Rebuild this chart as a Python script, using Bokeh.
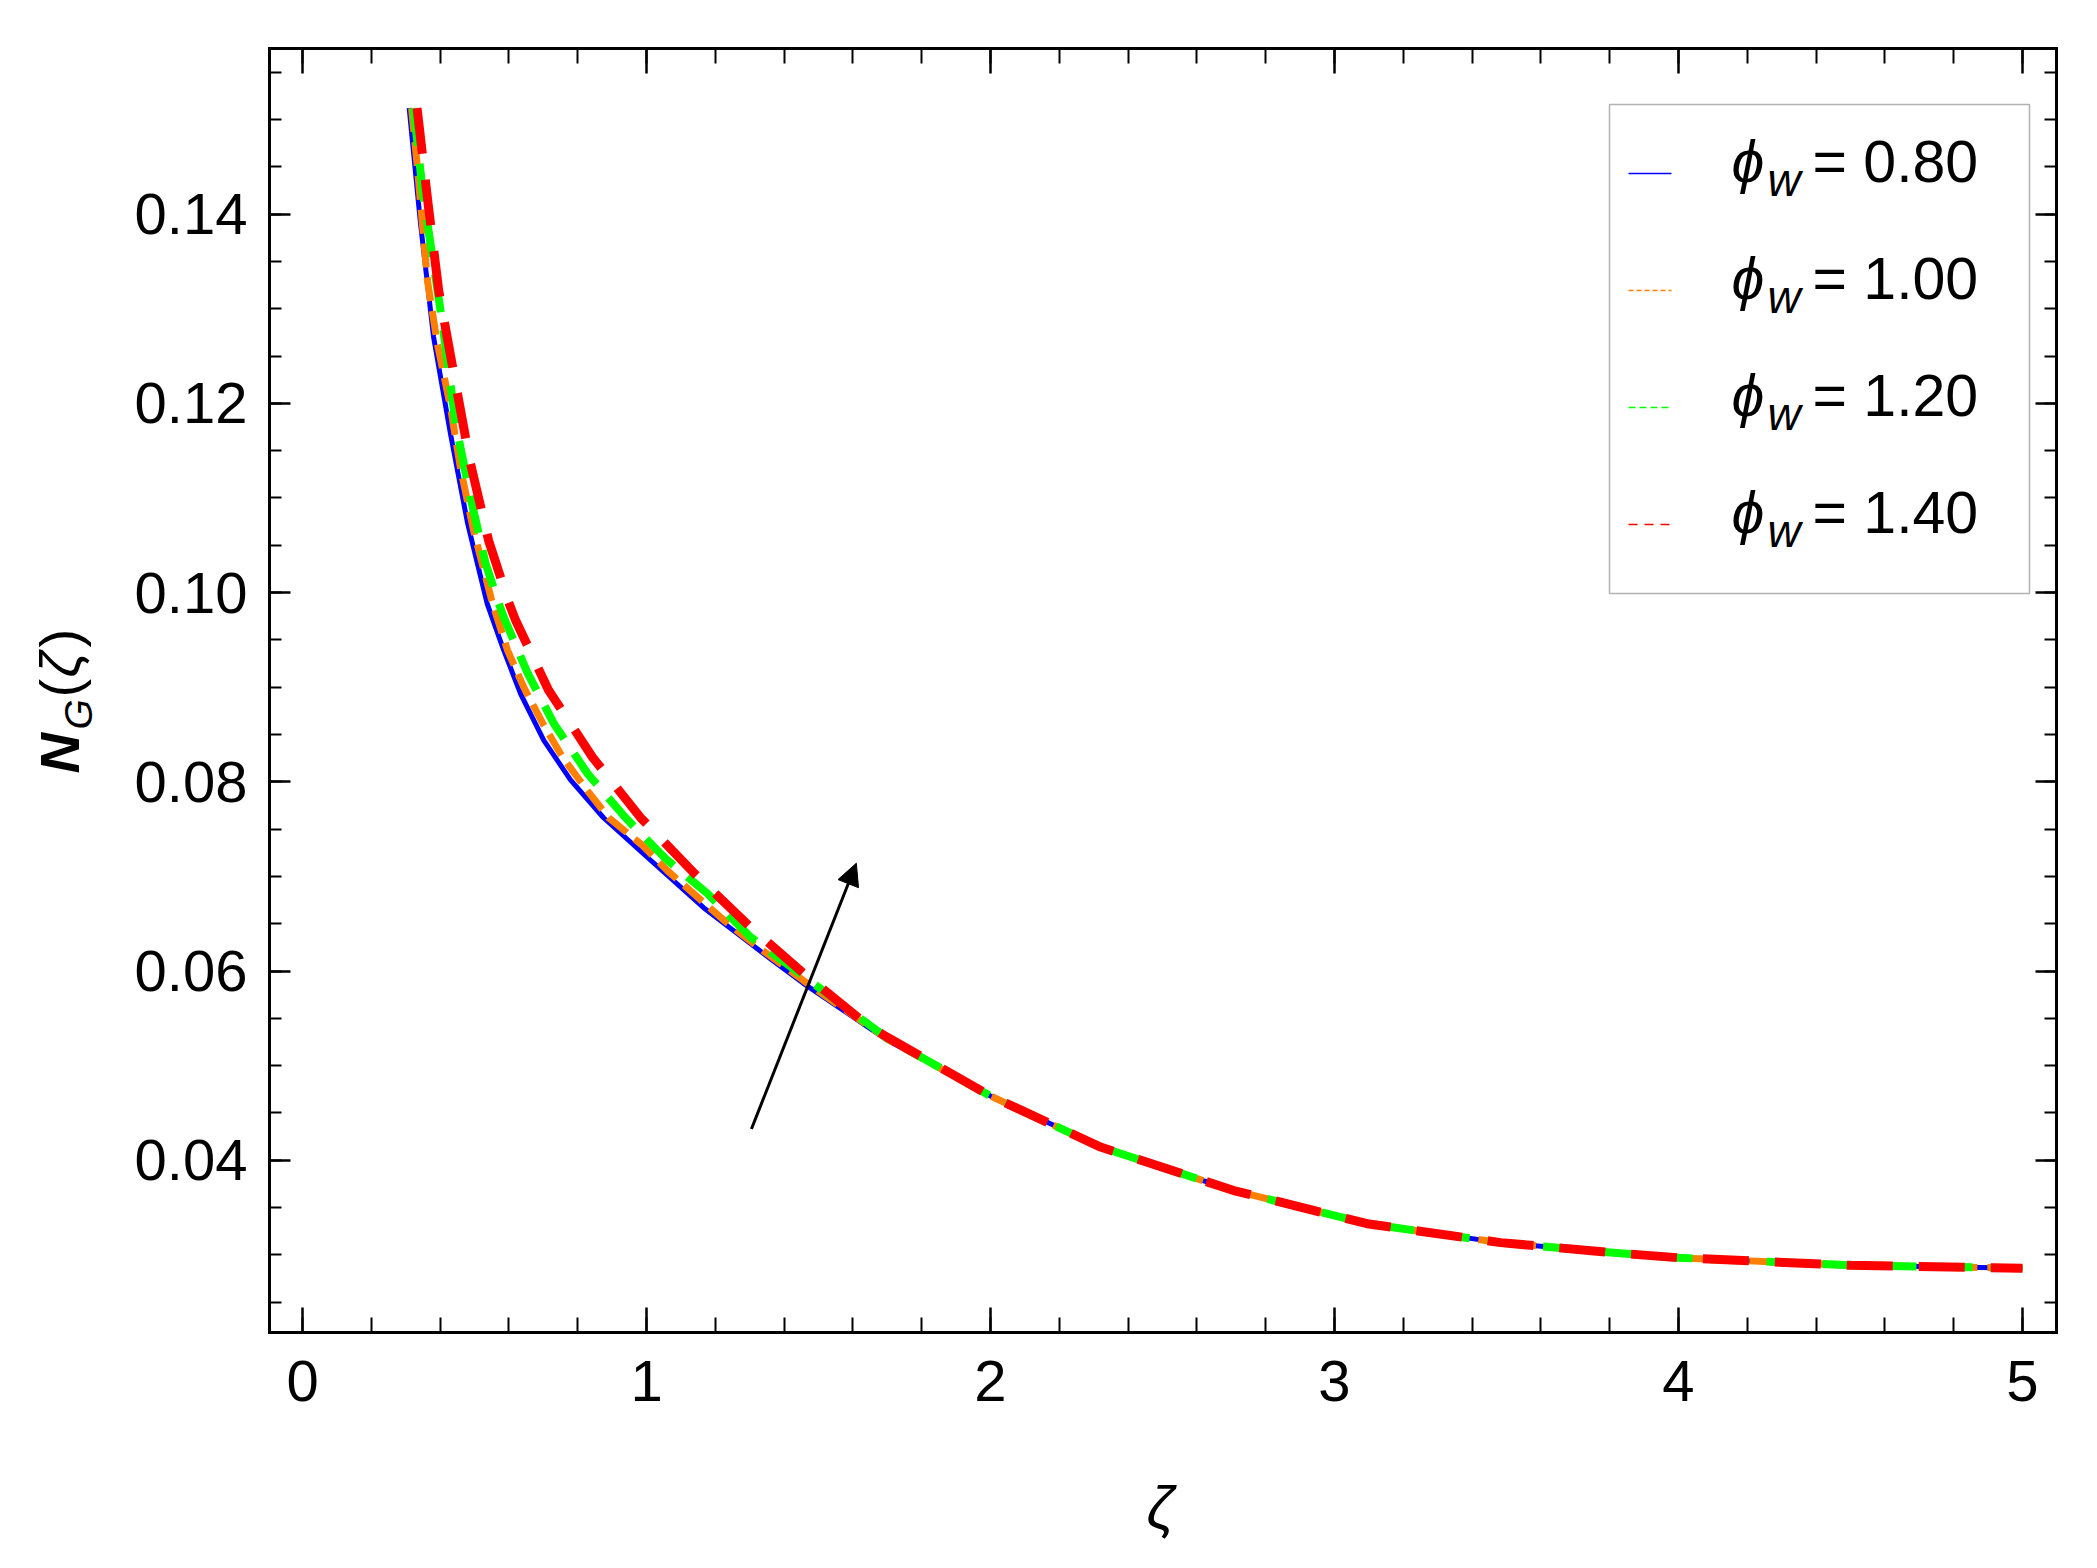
import numpy as np
from bokeh.plotting import figure
from bokeh.models import (Range1d, FixedTicker, NumeralTickFormatter, LinearAxis,
                          CustomJSTickFormatter, Label, BoxAnnotation, Arrow, NormalHead)
from bokeh.embed import file_html
from bokeh.resources import INLINE

# ---- values ----
phi_labels = ["0.80", "1.00", "1.20", "1.40"]

zeta_080 = [0.310, 0.343, 0.381, 0.430, 0.480, 0.537, 0.585, 0.634, 0.701, 0.779, 0.875,
            1.003, 1.166, 1.360, 1.456, 1.70, 2.00, 2.32, 2.707, 3.095, 3.483, 3.82, 4.0, 4.5, 5.0]
ng_080 = [0.1512, 0.1390, 0.1270, 0.1168, 0.1073, 0.0988, 0.0939, 0.0893, 0.0844, 0.0802, 0.0762,
          0.0720, 0.0667, 0.0613, 0.0587, 0.0527, 0.0468, 0.0414, 0.0368, 0.0333, 0.0313, 0.0302,
          0.0297, 0.0289, 0.0286]

zeta_100 = [0.317, 0.334, 0.363, 0.392, 0.430, 0.459, 0.497, 0.552, 0.596, 0.643, 0.698, 0.756,
            0.823, 0.890, 0.988, 1.061, 1.224, 1.311, 1.456, 1.70, 2.00, 2.32, 2.707, 3.095, 3.483,
            3.82, 4.0, 4.5, 5.0]
ng_100 = [0.1512, 0.1449, 0.1330, 0.1263, 0.1196, 0.1132, 0.1066, 0.0989, 0.0939, 0.0900, 0.0862,
          0.0826, 0.0793, 0.0762, 0.0733, 0.0706, 0.0654, 0.0629, 0.0590, 0.0528, 0.0468, 0.0414,
          0.0368, 0.0333, 0.0313, 0.0302, 0.0297, 0.0289, 0.0286]

zeta_120 = [0.323, 0.349, 0.378, 0.407, 0.445, 0.488, 0.532, 0.570, 0.585, 0.653, 0.730, 0.828,
            0.939, 1.055, 1.177, 1.302, 1.544, 1.70, 2.00, 2.32, 2.707, 3.095, 3.483, 3.82, 4.0,
            4.5, 5.0]
ng_120 = [0.1512, 0.1425, 0.1354, 0.1284, 0.1179, 0.1101, 0.1031, 0.0989, 0.0974, 0.0916, 0.0862,
          0.0809, 0.0762, 0.0719, 0.0682, 0.0636, 0.0571, 0.0529, 0.0468, 0.0414, 0.0368, 0.0333,
          0.0313, 0.0302, 0.0297, 0.0289, 0.0286]

zeta_140 = [0.333, 0.364, 0.396, 0.445, 0.486, 0.541, 0.599, 0.619, 0.715, 0.843, 0.983, 1.137,
            1.297, 1.462, 1.642, 1.70, 2.00, 2.32, 2.707, 3.095, 3.483, 3.82, 4.0, 4.5, 5.0]
ng_140 = [0.1512, 0.1414, 0.1319, 0.1221, 0.1140, 0.1055, 0.0990, 0.0971, 0.0897, 0.0826, 0.0762,
          0.0704, 0.0648, 0.0596, 0.0543, 0.0530, 0.0468, 0.0414, 0.0368, 0.0333, 0.0313, 0.0302,
          0.0297, 0.0289, 0.0286]

x_major = [0, 1, 2, 3, 4, 5]
y_major = [0.04, 0.06, 0.08, 0.10, 0.12, 0.14]

arrow_x = [1.305, 1.610]
arrow_y = [0.0433, 0.0714]

# ---- styles ----
colors = ["#0000ff", "#ff8000", "#00ff00", "#ff0000"]
widths = [5, 7, 8, 9]
dashes = ["solid", "24 10", "38 18", "46 26"]
legend_dashes = ["solid", "5 3", "7 4", "9 7"]
FONT = "Liberation Sans"

# visible box limits (data) and where that box sits on the canvas (pixels)
x_lo, x_hi = -0.096, 5.099
y_lo, y_hi = 0.0218, 0.1575
FL, FR, FT, FB = 269, 2056, 48, 1332
W, H = 2081, 1552


def px_x(X):
    return x_lo + (X - FL) / (FR - FL) * (x_hi - x_lo)


def px_y(Y):
    return y_hi - (Y - FT) / (FB - FT) * (y_hi - y_lo)


# the frame fills the whole canvas; the boxed axes are drawn at fixed locations
p = figure(width=W, height=H, output_backend="svg", toolbar_location=None,
           x_range=Range1d(px_x(0), px_x(W)), y_range=Range1d(px_y(H), px_y(0)),
           min_border=0)
p.xgrid.visible = False
p.ygrid.visible = False
p.outline_line_color = None
p.background_fill_color = "white"
p.border_fill_color = "white"

p.add_layout(LinearAxis(), "above")
p.add_layout(LinearAxis(), "right")

x_minor = [round(i * 0.2, 1) for i in range(26)]
y_minor = [round(0.025 + i * 0.005, 3) for i in range(27)]

for ax in p.xaxis:
    ax.ticker = FixedTicker(ticks=x_major, minor_ticks=x_minor)
    ax.major_tick_in, ax.minor_tick_in = 25, 15
    ax.bounds = (x_lo, x_hi)
for ax in p.yaxis:
    ax.ticker = FixedTicker(ticks=y_major, minor_ticks=y_minor)
    ax.major_tick_in, ax.minor_tick_in = 21, 12
    ax.bounds = (y_lo, y_hi)
for ax in p.xaxis + p.yaxis:
    ax.major_tick_out = 0
    ax.minor_tick_out = 0
    ax.axis_line_width = 3
    ax.axis_line_cap = "square"
    ax.major_tick_line_width = 2.5
    ax.minor_tick_line_width = 2
    ax.major_label_text_font = FONT
    ax.major_label_text_font_size = "58px"
    ax.major_label_text_color = "black"

p.below[0].fixed_location = y_lo
p.above[0].fixed_location = y_hi
p.left[0].fixed_location = x_lo
p.right[0].fixed_location = x_hi

p.below[0].formatter = NumeralTickFormatter(format="0")
p.below[0].major_label_standoff = 28
p.left[0].formatter = NumeralTickFormatter(format="0.00")
p.left[0].major_label_standoff = 22
p.above[0].formatter = CustomJSTickFormatter(code="return ''")
p.right[0].formatter = CustomJSTickFormatter(code="return ''")

series = [(zeta_080, ng_080), (zeta_100, ng_100), (zeta_120, ng_120), (zeta_140, ng_140)]
for (xs, ys), c, w, d in zip(series, colors, widths, dashes):
    p.line(xs, ys, line_color=c, line_width=w, line_dash=d, line_join="round")

p.add_layout(Arrow(end=NormalHead(size=22, fill_color="black", line_color="black", line_width=1),
                   x_start=arrow_x[0], y_start=arrow_y[0], x_end=arrow_x[1], y_end=arrow_y[1],
                   line_width=3, line_color="black"))

# legend box
p.add_layout(BoxAnnotation(left=px_x(1609), right=px_x(2029), top=px_y(104), bottom=px_y(593),
                           fill_color="white", fill_alpha=1.0, line_color="black",
                           line_width=1.5, level="underlay"))
for k, (lab, c, d) in enumerate(zip(phi_labels, colors, legend_dashes)):
    yl = 173 + k * 117
    base = 194 + k * 117
    p.line([px_x(1628), px_x(1671)], [px_y(yl), px_y(yl)], line_color=c, line_width=1.5,
           line_dash=d)
    p.add_layout(Label(x=px_x(1731), y=px_y(base), text="\u03d5", text_font=FONT,
                       text_font_size="59px", text_font_style="italic", text_color="black"))
    p.add_layout(Label(x=px_x(1767), y=px_y(base + 11), text="w", text_font=FONT,
                       text_font_size="46px", text_font_style="italic", text_color="black"))
    p.add_layout(Label(x=px_x(1812), y=px_y(base), text="= " + lab, text_font=FONT,
                       text_font_size="59px", text_color="black"))

# axis titles
p.add_layout(Label(x=px_x(1160), y=px_y(1540), text="\u03b6", text_font=FONT,
                   text_font_size="60px", text_font_style="italic", text_align="center",
                   text_color="black"))
rot = np.pi / 2
p.add_layout(Label(x=px_x(90), y=px_y(773), text="N", angle=rot, text_font=FONT,
                   text_font_size="56px", text_font_style="bold italic", text_color="black"))
p.add_layout(Label(x=px_x(99), y=px_y(729), text="G", angle=rot, text_font=FONT,
                   text_font_size="39px", text_font_style="italic", text_color="black"))
p.add_layout(Label(x=px_x(90), y=px_y(697), text="(", angle=rot, text_font=FONT,
                   text_font_size="56px", text_color="black"))
p.add_layout(Label(x=px_x(90), y=px_y(677), text="\u03b6", angle=rot, text_font=FONT,
                   text_font_size="56px", text_font_style="italic", text_color="black"))
p.add_layout(Label(x=px_x(90), y=px_y(647), text=")", angle=rot, text_font=FONT,
                   text_font_size="56px", text_color="black"))

open("out.html", "w").write(file_html(p, INLINE))
